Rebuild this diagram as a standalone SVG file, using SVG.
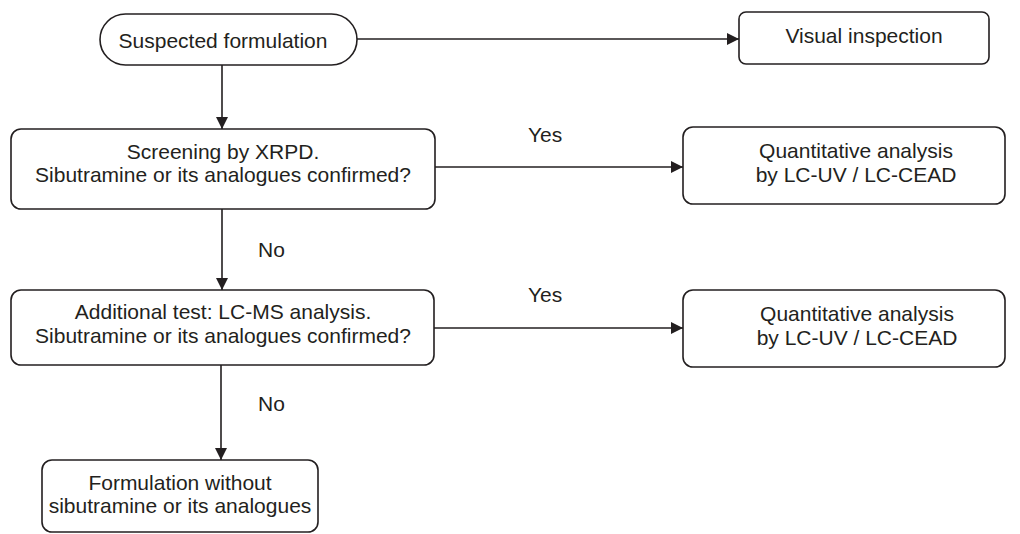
<svg xmlns="http://www.w3.org/2000/svg" width="1020" height="534" viewBox="0 0 1020 534">
  <style>
    .box { fill: #ffffff; stroke: #231f20; stroke-width: 1.6; }
    .t { font-family: "Liberation Sans", Arial, sans-serif; font-size: 21px; fill: #231f20; text-anchor: middle; }
    .lbl { font-family: "Liberation Sans", Arial, sans-serif; font-size: 21px; fill: #231f20; }
    .conn { stroke: #231f20; stroke-width: 1.6; fill: none; marker-end: url(#arr); }
  </style>
  <defs>
    <marker id="arr" markerWidth="12" markerHeight="12" viewBox="0 0 12 12" refX="12" refY="6" orient="auto" markerUnits="userSpaceOnUse">
      <path d="M0,0 L12,6 L0,12 Z" fill="#231f20"/>
    </marker>
  </defs>
  <rect width="1020" height="534" fill="#ffffff"/>

  <g id="connectors">
    <line class="conn" x1="357" y1="39" x2="739" y2="39"/>
    <line class="conn" x1="222" y1="65" x2="222" y2="129"/>
    <line class="conn" x1="435" y1="167" x2="683" y2="167"/>
    <line class="conn" x1="222" y1="209" x2="222" y2="290"/>
    <line class="conn" x1="434" y1="328" x2="683" y2="328"/>
    <line class="conn" x1="221" y1="365" x2="221" y2="460"/>
    <text class="lbl" x="528" y="142">Yes</text>
    <text class="lbl" x="528" y="302">Yes</text>
    <text class="lbl" x="258" y="257">No</text>
    <text class="lbl" x="258" y="411">No</text>
  </g>

  <g id="start">
    <rect class="box" x="100" y="14" width="257" height="51" rx="25.5" ry="25.5"/>
    <text class="t" x="223" y="48">Suspected formulation</text>
  </g>

  <g id="visual">
    <rect class="box" x="739" y="12" width="250" height="52" rx="7" ry="7"/>
    <text class="t" x="864" y="43">Visual inspection</text>
  </g>

  <g id="screening">
    <rect class="box" x="11" y="129" width="424" height="80" rx="10" ry="10"/>
    <text class="t" x="223" y="159">Screening by XRPD.</text>
    <text class="t" x="223" y="182">Sibutramine or its analogues confirmed?</text>
  </g>

  <g id="quant1">
    <rect class="box" x="683" y="127" width="322" height="77" rx="10" ry="10"/>
    <text class="t" x="856" y="158">Quantitative analysis</text>
    <text class="t" x="856" y="182">by LC-UV / LC-CEAD</text>
  </g>

  <g id="additional">
    <rect class="box" x="11" y="290" width="423" height="75" rx="10" ry="10"/>
    <text class="t" x="223" y="319">Additional test: LC-MS analysis.</text>
    <text class="t" x="223" y="343">Sibutramine or its analogues confirmed?</text>
  </g>

  <g id="quant2">
    <rect class="box" x="683" y="290" width="322" height="77" rx="10" ry="10"/>
    <text class="t" x="857" y="321">Quantitative analysis</text>
    <text class="t" x="857" y="345">by LC-UV / LC-CEAD</text>
  </g>

  <g id="without">
    <rect class="box" x="42" y="460" width="276" height="72" rx="10" ry="10"/>
    <text class="t" x="180" y="490">Formulation without</text>
    <text class="t" x="180" y="513">sibutramine or its analogues</text>
  </g>
</svg>
